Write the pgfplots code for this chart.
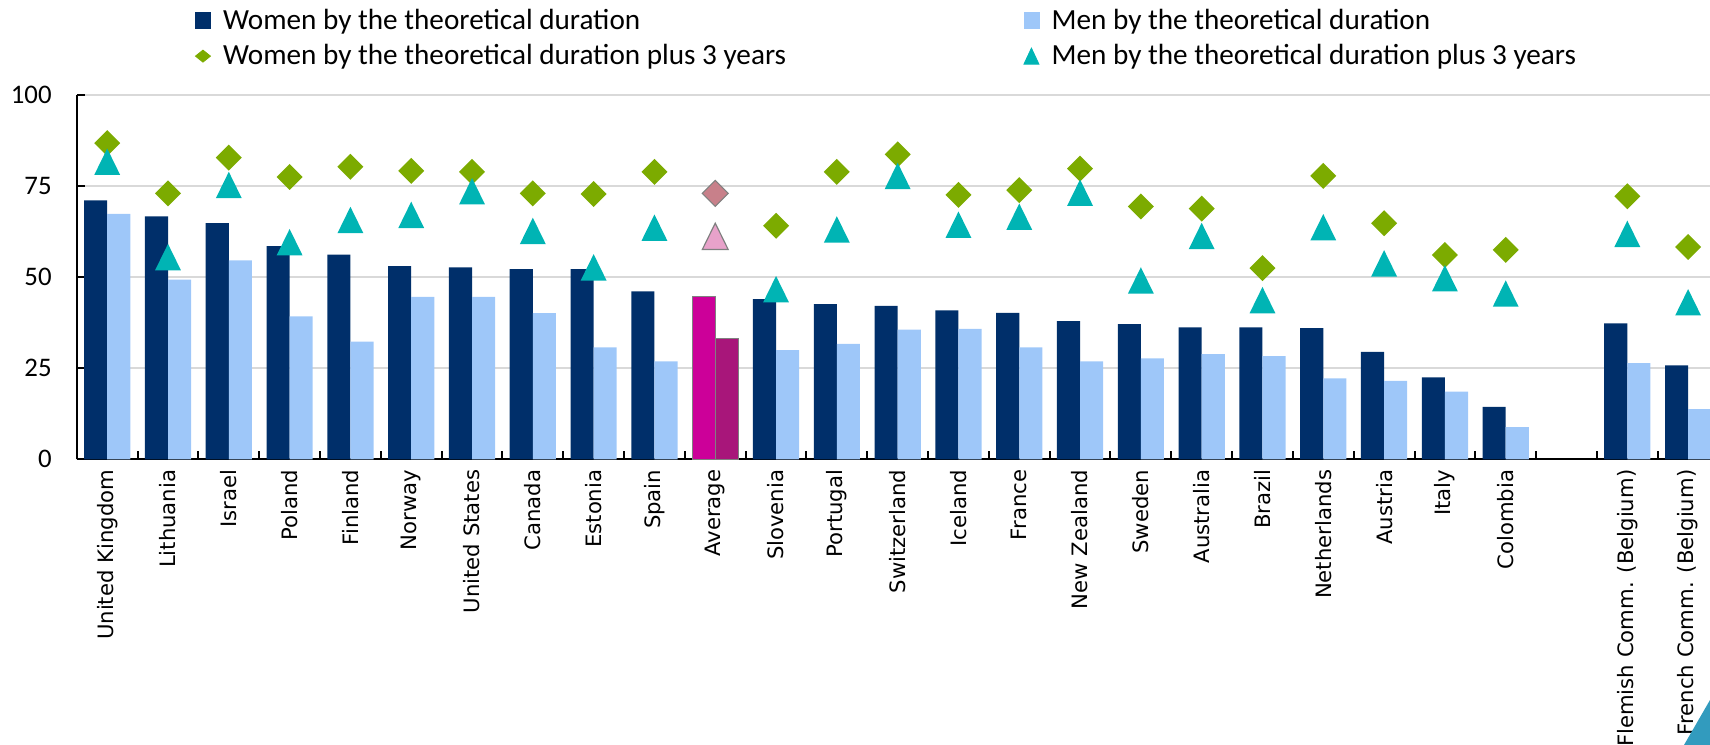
\documentclass[border=0pt]{standalone}
\usepackage{fontspec}
\setmainfont{Carlito}
\newfontfamily\dejavu{DejaVu Sans}
\usepackage{pgfplots}
\pgfplotsset{compat=1.18}
\usepackage{pgfplotstable}

\definecolor{navy}{RGB}{0,47,106}
\definecolor{lblue}{RGB}{158,199,249}
\definecolor{dgreen}{RGB}{124,171,0}
\definecolor{teal2}{RGB}{0,180,180}
\definecolor{avgw}{RGB}{204,0,153}
\definecolor{avgm}{RGB}{168,22,122}
\definecolor{avgd}{RGB}{200,128,138}
\definecolor{avgt}{RGB}{232,162,202}
\definecolor{gridgray}{RGB}{217,217,217}
\definecolor{decor}{RGB}{50,155,190}

\pgfdeclareplotmark{xdiam}{%
  \pgfpathmoveto{\pgfqpoint{0pt}{\pgfplotmarksize}}%
  \pgfpathlineto{\pgfqpoint{\pgfplotmarksize}{0pt}}%
  \pgfpathlineto{\pgfqpoint{0pt}{-\pgfplotmarksize}}%
  \pgfpathlineto{\pgfqpoint{-\pgfplotmarksize}{0pt}}%
  \pgfpathclose\pgfusepathqfill}
\pgfdeclareplotmark{xdiamb}{%
  \pgfpathmoveto{\pgfqpoint{0pt}{\pgfplotmarksize}}%
  \pgfpathlineto{\pgfqpoint{\pgfplotmarksize}{0pt}}%
  \pgfpathlineto{\pgfqpoint{0pt}{-\pgfplotmarksize}}%
  \pgfpathlineto{\pgfqpoint{-\pgfplotmarksize}{0pt}}%
  \pgfpathclose\pgfusepathqfillstroke}
\pgfdeclareplotmark{xtri}{%
  \pgfpathmoveto{\pgfqpoint{0pt}{\pgfplotmarksize}}%
  \pgfpathlineto{\pgfqpoint{0.98\pgfplotmarksize}{-\pgfplotmarksize}}%
  \pgfpathlineto{\pgfqpoint{-0.98\pgfplotmarksize}{-\pgfplotmarksize}}%
  \pgfpathclose\pgfusepathqfill}
\pgfdeclareplotmark{xtrib}{%
  \pgfpathmoveto{\pgfqpoint{0pt}{\pgfplotmarksize}}%
  \pgfpathlineto{\pgfqpoint{0.98\pgfplotmarksize}{-\pgfplotmarksize}}%
  \pgfpathlineto{\pgfqpoint{-0.98\pgfplotmarksize}{-\pgfplotmarksize}}%
  \pgfpathclose\pgfusepathqfillstroke}

% i: position; W/M: by theoretical duration; Wp/Mp: plus 3 years
\pgfplotstableread{
i  W    M    Wp   Mp
0  71.1 67.4 86.8 81.7
1  66.7 49.3 73.0 55.5
2  64.8 54.6 82.8 75.3
3  58.5 39.2 77.5 59.6
4  56.2 32.3 80.3 65.7
5  53.0 44.6 79.2 67.1
6  52.7 44.6 78.9 73.6
7  52.2 40.1 73.0 62.7
8  52.2 30.7 72.8 52.7
9  46.1 26.9 78.9 63.6
11 44.0 30.0 64.1 46.7
12 42.6 31.7 78.9 63.1
13 42.1 35.6 83.7 77.8
14 40.9 35.8 72.6 64.4
15 40.2 30.7 73.9 66.6
16 37.9 26.9 79.8 73.2
17 37.1 27.7 69.4 49.1
18 36.2 28.9 68.8 61.3
19 36.2 28.3 52.5 43.7
20 36.0 22.2 77.8 63.7
21 29.5 21.5 64.8 53.8
22 22.5 18.6 56.1 49.7
23 14.4  8.8 57.5 45.5
25 37.3 26.4 72.2 61.9
26 25.8 13.8 58.3 43.1
}\datatab

\begin{document}
\begin{tikzpicture}
\begin{axis}[
  at={(0,0)}, anchor=south west,
  scale only axis, width=816.6pt, height=182.15pt,
  xmin=-0.5, xmax=26.36, ymin=0, ymax=100,
  axis x line*=bottom, axis y line*=left,
  axis line style={black, line width=1pt},
  ytick={0,25,50,75,100},
  minor ytick={0,25,50,75,100},
  ymajorgrids, grid style={gridgray, line width=1.15pt},
  xtick={0,1,...,23,25,26},
  xticklabels={United Kingdom,Lithuania,Israel,Poland,Finland,Norway,United States,Canada,Estonia,Spain,Average,Slovenia,Portugal,Switzerland,Iceland,France,New Zealand,Sweden,Australia,Brazil,Netherlands,Austria,Italy,Colombia,Flemish Comm. (Belgium),French Comm. (Belgium)},
  minor xtick={-0.5,0.5,...,26.5},
  major tick length=0pt, minor tick length=4pt,
  tick align=inside,
  minor tick style={black, line width=1pt},
  xticklabel style={rotate=90, anchor=east, inner xsep=5pt, inner ysep=0pt,
    font=\dejavu\fontsize{10.6}{12}\selectfont},
  yticklabel style={anchor=east, inner xsep=12.4pt, inner ysep=0pt,
    font=\fontsize{13.4}{15}\selectfont},
  /pgf/number format/assume math mode=true,
  legend columns=2,
  legend cell align=left,
  legend style={at={(0.0685,1.2591)}, anchor=north west, draw=none, fill=none,
    font=\fontsize{14.6}{17}\selectfont,
    row sep=2.1pt,
    /tikz/every odd column/.append style={column sep=4pt},
    /tikz/every even column/.append style={column sep=116.7pt}},
]
\addplot[ybar, bar width=0.38, bar shift=-0.19, fill=navy, draw=none,
  legend image code/.code={\fill[navy] (0pt,-4.17pt) rectangle (7.85pt,4.17pt);}]
  table[x=i, y=W] {\datatab};
\addlegendentry{Women by the theoretical duration}
\addplot[ybar, bar width=0.38, bar shift=0.19, fill=lblue, draw=none,
  legend image code/.code={\fill[lblue] (0pt,-4.17pt) rectangle (7.85pt,4.17pt);}]
  table[x=i, y=M] {\datatab};
\addlegendentry{Men by the theoretical duration}
\addplot[only marks, mark=xdiam, mark size=6.5pt, dgreen,
  legend image code/.code={\fill[dgreen] (0pt,0pt) -- (3.75pt,3pt) -- (7.5pt,0pt) -- (3.75pt,-3pt) -- cycle;}]
  table[x=i, y=Wp] {\datatab};
\addlegendentry{Women by the theoretical duration plus 3 years}
\addplot[only marks, mark=xtri, mark size=6.6pt, teal2,
  legend image code/.code={\fill[teal2] (0pt,-4pt) -- (7.5pt,-4pt) -- (3.75pt,4pt) -- cycle;}]
  table[x=i, y=Mp] {\datatab};
\addlegendentry{Men by the theoretical duration plus 3 years}
% Average
\addplot[forget plot, ybar, bar width=0.38, bar shift=-0.19, fill=avgw, draw=gray, line width=0.6pt]
  coordinates {(10,44.6)};
\addplot[forget plot, ybar, bar width=0.38, bar shift=0.19, fill=avgm, draw=gray, line width=0.6pt]
  coordinates {(10,33.2)};
\addplot[forget plot, only marks, mark=xdiamb, mark size=6.5pt,
  mark options={fill=avgd, draw=gray, line width=0.6pt}]
  coordinates {(10,73.0)};
\addplot[forget plot, only marks, mark=xtrib, mark size=6.6pt,
  mark options={fill=avgt, draw=gray, line width=0.6pt}]
  coordinates {(10,61.2)};
\end{axis}
\fill[decor] (803.6pt,-142.85pt) -- (816.6pt,-120.35pt) -- (816.6pt,-142.85pt) -- cycle;
\pgfresetboundingbox
\useasboundingbox (-38.4pt,-142.85pt) rectangle (816.6pt,229.65pt);
\end{tikzpicture}
\end{document}
